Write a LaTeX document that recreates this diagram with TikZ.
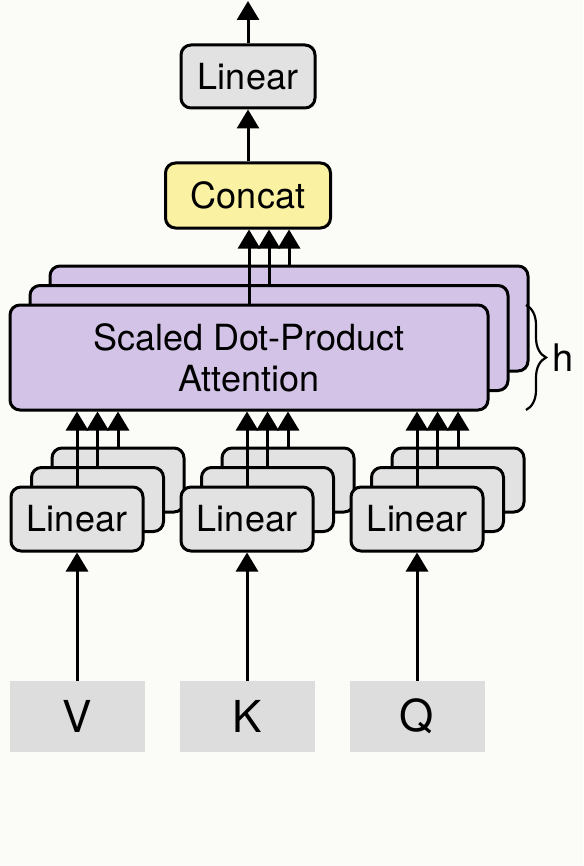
\documentclass[tikz,border=0pt]{standalone}
\usepackage{fontspec}
\setmainfont{TeX Gyre Heros}
\usetikzlibrary{arrows.meta,decorations.pathreplacing}
\definecolor{bgcol}{RGB}{251,251,247}
\definecolor{lingray}{RGB}{226,226,226}
\definecolor{ingray}{RGB}{221,221,221}
\definecolor{attpurple}{RGB}{211,196,231}
\definecolor{catyellow}{RGB}{250,241,162}

\begin{document}
\begin{tikzpicture}[x=0.5pt,y=-0.5pt,
  box/.style={draw=black, line width=1.5pt, rounded corners=5pt, align=center,
    inner sep=0pt, font=\fontsize{18}{20.5}\selectfont},
  linbox/.style={box, fill=lingray, minimum width=66pt, minimum height=32pt},
  attbox/.style={box, fill=attpurple, minimum width=239pt, minimum height=52.5pt},
  catbox/.style={box, fill=catyellow, minimum width=82.5pt, minimum height=32.5pt},
  inbox/.style={fill=ingray, minimum width=67.5pt, minimum height=35.5pt,
    inner sep=0pt, font=\fontsize{22}{26}\selectfont},
  arr/.style={line width=1.5pt, -{Triangle[length=9.5pt,width=11pt]}},
  brc/.style={decorate, decoration={brace, amplitude=10pt}, line width=1.1pt}]
  \useasboundingbox (0,0) rectangle (583,866);
  \fill[bgcol] (0,0) rectangle (583,866);

  \node[inbox] (v) at (77,716.5) {V};
  \node[inbox] (k) at (247,716.5) {K};
  \node[inbox] (q) at (417,716.5) {Q};

  \node[linbox] (lv3) at (118,480) {};
  \node[linbox] (lv2) at (97.5,499.5) {};
  \node[linbox] (lv1) at (77,519) {Linear};
  \node[linbox] (lk3) at (288,480) {};
  \node[linbox] (lk2) at (267.5,499.5) {};
  \node[linbox] (lk1) at (247,519) {Linear};
  \node[linbox] (lq3) at (458,480) {};
  \node[linbox] (lq2) at (437.5,499.5) {};
  \node[linbox] (lq1) at (417,519) {Linear};

  \node[attbox] (att3) at (289,318.5) {};
  \node[attbox] (att2) at (269,338) {};
  \node[attbox] (att1) at (249,357.5) {Scaled Dot-Product\\Attention};

  \node[catbox] (cat) at (248,195.5) {Concat};
  \node[linbox, minimum width=67pt, minimum height=31.5pt] (out) at (248,76.5) {Linear};
  \coordinate (top) at (248,1);

  \draw[arr] (v.north) -- (v.north |- lv1.south);
  \draw[arr] (k.north) -- (k.north |- lk1.south);
  \draw[arr] (q.north) -- (q.north |- lq1.south);

  \draw[arr] (lv1.north) -- (lv1.north |- att1.south);
  \draw[arr] (lv2.north) -- (lv2.north |- att1.south);
  \draw[arr] (lv3.north) -- (lv3.north |- att1.south);
  \draw[arr] (lk1.north) -- (lk1.north |- att1.south);
  \draw[arr] (lk2.north) -- (lk2.north |- att1.south);
  \draw[arr] (lk3.north) -- (lk3.north |- att1.south);
  \draw[arr] (lq1.north) -- (lq1.north |- att1.south);
  \draw[arr] (lq2.north) -- (lq2.north |- att1.south);
  \draw[arr] (lq3.north) -- (lq3.north |- att1.south);

  \draw[arr] (att1.north) -- (att1.north |- cat.south);
  \draw[arr] (att2.north) -- (att2.north |- cat.south);
  \draw[arr] (att3.north) -- (att3.north |- cat.south);

  \draw[arr] (cat) -- (out);
  \draw[arr] (out) -- (top);

  \draw[brc] (526,305) -- (526,410);
  \node[font=\fontsize{19}{22}\selectfont] (hlbl) at (563,358) {h};
\end{tikzpicture}
\end{document}
